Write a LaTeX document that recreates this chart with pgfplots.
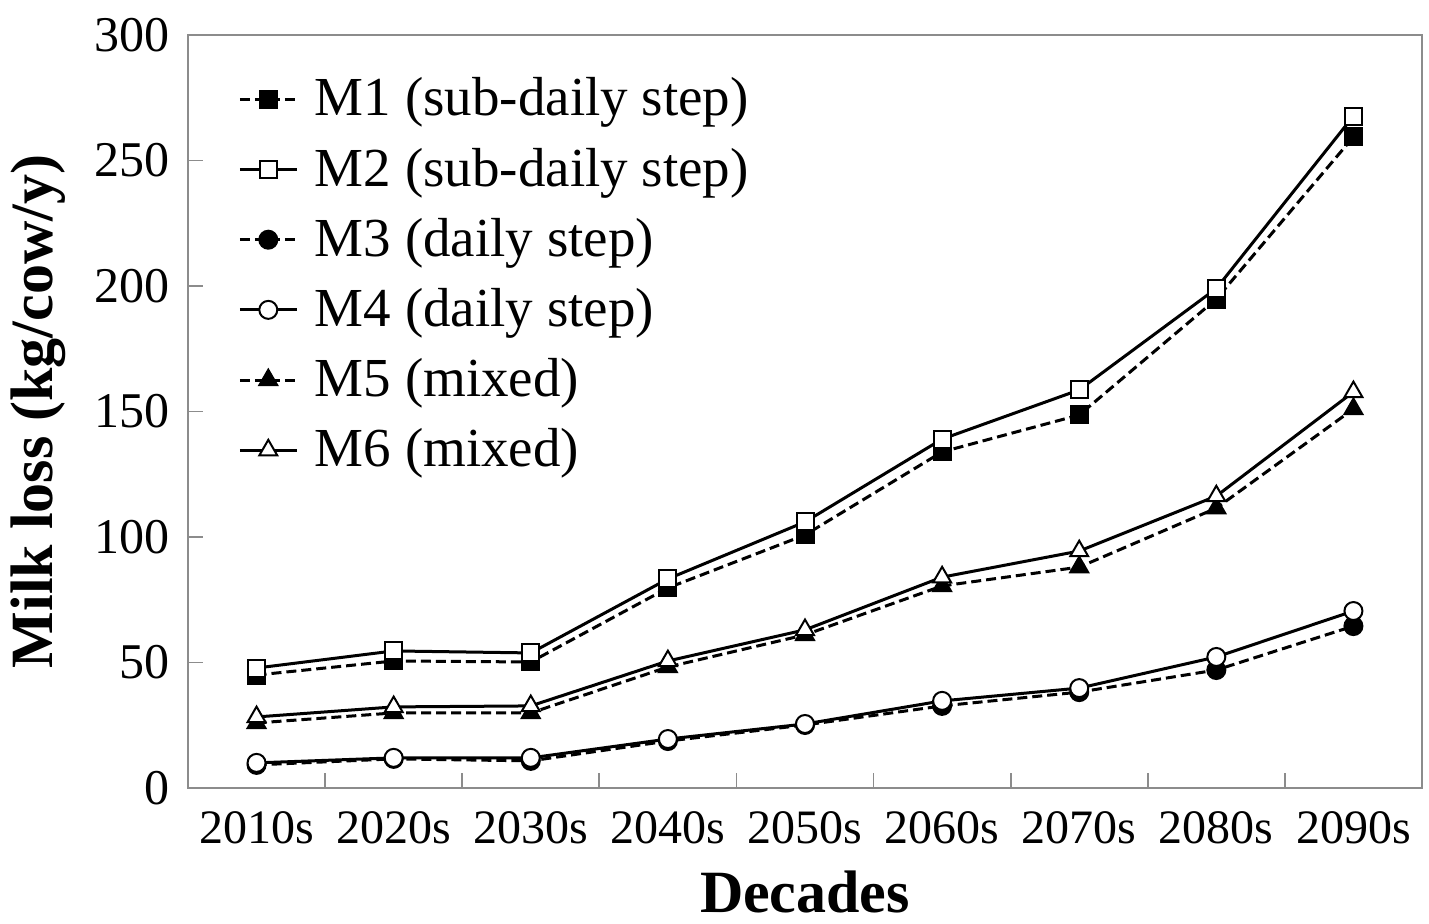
\documentclass[border=0pt]{standalone}
\usepackage{pgfplots}
\pgfplotsset{compat=1.18}
\usepackage{fontspec}
\setmainfont{Liberation Serif}
\begin{document}
\begin{tikzpicture}
\begin{axis}[
  name=ax,
  scale only axis,
  width=370.2pt, height=225.9pt,
  xmin=-0.5, xmax=8.5, ymin=0, ymax=300,
  axis line style={draw=gray!90, line width=0.5pt},
  major tick length=4.5pt, minor tick length=4.5pt,
  xtick={0,...,8},
  xticklabels={2010s,2020s,2030s,2040s,2050s,2060s,2070s,2080s,2090s},
  every major x tick/.append style={draw=none},
  minor xtick={0.5,1.5,...,7.5},
  every minor x tick/.append style={draw=gray!90, line width=0.5pt},
  ytick={0,50,...,300},
  every major y tick/.append style={draw=gray!90, line width=0.5pt},
  tick align=inside,
  xtick pos=bottom, ytick pos=left,
  /pgf/number format/assume math mode=true,
  tick label style={font=\fontsize{14.4}{17}\selectfont},
  yticklabel style={font=\fontsize{15}{18}\selectfont, xshift=-2pt},
  xticklabel style={yshift=-3.6pt},
  xlabel={\textbf{Decades}},
  ylabel={\textbf{Milk loss (kg/cow/y)}},
  label style={font=\fontsize{18}{21}\selectfont},
  xlabel style={at={(axis description cs:0.5,-0.138)}, anchor=center},
  ylabel style={at={(axis description cs:-0.1216,0.5)}, anchor=center},
  legend style={draw=none, fill=none, inner sep=0pt, outer sep=0pt,
    at={(axis description cs:0.0408,0.952)}, anchor=north west,
    font=\fontsize{16.5}{19.8}\selectfont, nodes={inner sep=2pt}, row sep=4.1pt, column sep=3pt},
  legend cell align=left,
  every axis plot/.append style={line width=0.9pt, black},
]
\addplot[dash pattern=on 3pt off 1.5pt, mark=square*, mark size=2.55pt, mark options={solid, fill=black, line width=0.6pt}]
 coordinates {(0,45.0)(1,50.6)(2,50.2)(3,79.7)(4,100.8)(5,133.9)(6,148.6)(7,194.8)(8,259.4)};
\addlegendentry{M1 (sub-daily step)}
\addplot[solid, mark=square*, mark size=2.55pt, mark options={solid, fill=white, line width=0.6pt}]
 coordinates {(0,47.8)(1,54.6)(2,53.8)(3,83.3)(4,106.0)(5,139.0)(6,158.6)(7,199.0)(8,267.7)};
\addlegendentry{M2 (sub-daily step)}
\addplot[dash pattern=on 3pt off 1.5pt, mark=*, mark size=2.7pt, mark options={solid, fill=black, line width=0.6pt}]
 coordinates {(0,9.2)(1,11.6)(2,10.8)(3,18.7)(4,25.1)(5,32.7)(6,38.2)(7,47.0)(8,64.5)};
\addlegendentry{M3 (daily step)}
\addplot[solid, mark=*, mark size=2.7pt, mark options={solid, fill=white, line width=0.6pt}]
 coordinates {(0,10.0)(1,12.0)(2,12.0)(3,19.5)(4,25.5)(5,34.7)(6,39.8)(7,52.2)(8,70.5)};
\addlegendentry{M4 (daily step)}
\addplot[dash pattern=on 3pt off 1.5pt, mark=triangle*, mark size=3.1pt, mark options={solid, fill=black, line width=0.6pt}]
 coordinates {(0,25.9)(1,29.9)(2,29.9)(3,48.2)(4,61.0)(5,80.5)(6,88.0)(7,111.5)(8,151.0)};
\addlegendentry{M5 (mixed)}
\addplot[solid, mark=triangle*, mark size=3.1pt, mark options={solid, fill=white, line width=0.6pt}]
 coordinates {(0,28.3)(1,32.3)(2,32.7)(3,50.6)(4,63.0)(5,84.0)(6,94.4)(7,116.3)(8,157.8)};
\addlegendentry{M6 (mixed)}
\end{axis}
\pgfresetboundingbox
\path[use as bounding box] ([shift={(-56.4pt,-40.8pt)}]ax.south west) rectangle ([shift={(372.3pt,236.4pt)}]ax.south west);
\end{tikzpicture}
\end{document}
